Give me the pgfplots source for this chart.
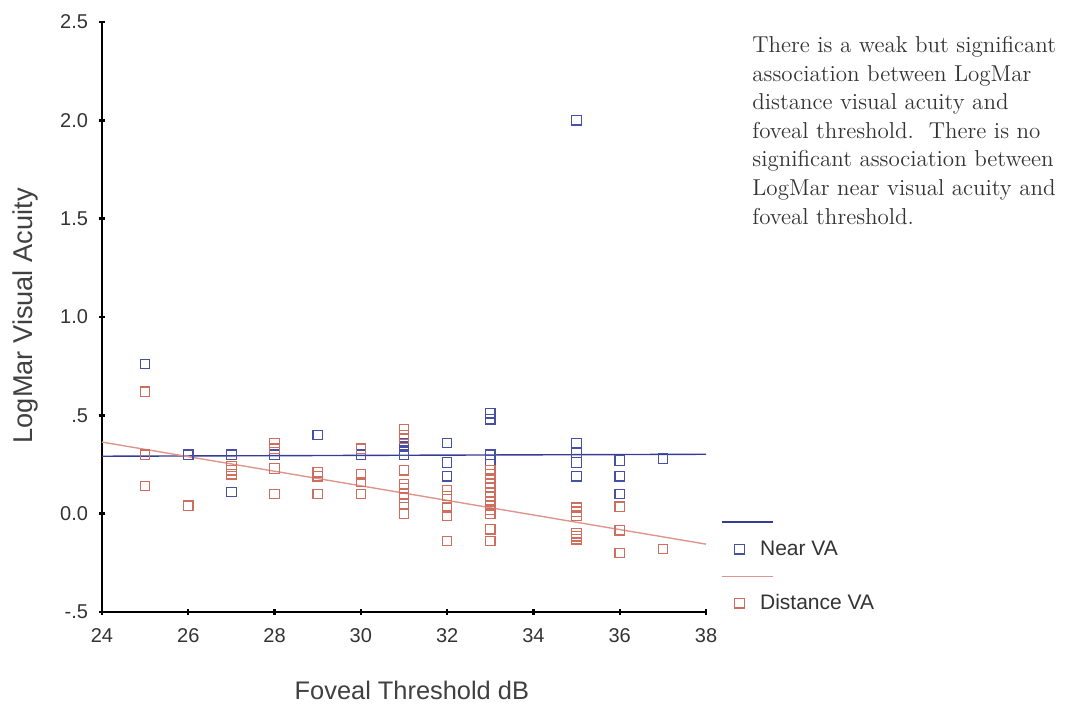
\documentclass[border=0pt]{standalone}
\usepackage{fontspec}
\setmainfont{Liberation Sans}
\usepackage{pgfplots}
\pgfplotsset{compat=1.18}
\definecolor{nearblue}{RGB}{70,80,165}
\definecolor{distred}{RGB}{205,110,95}
\definecolor{linered}{RGB}{222,150,140}
\definecolor{lineblue}{RGB}{55,60,150}
\pgfplotsset{
  lineleg/.style={legend image code/.code={\draw[overlay,##1] (0pt,0pt) -- (25.5pt,0pt); \path (0pt,0pt) -- (12pt,0pt);}},
  markleg/.style={legend image code/.code={\draw[mark repeat=2,mark phase=2,##1] plot coordinates {(0pt,0pt) (8.5pt,0pt) (12pt,0pt)};}},
}
\begin{document}
\begin{tikzpicture}
\useasboundingbox (-51pt,-49.5pt) rectangle (482pt,306pt);
\begin{axis}[
  at={(0,0)}, anchor=south west,
  scale only axis, width=302pt, height=295pt,
  xmin=24, xmax=38, ymin=-0.5, ymax=2.5,
  axis x line*=bottom, axis y line*=left,
  axis line style={line width=0.8pt},
  xtick={24,26,...,38},
  xticklabels={24,26,28,30,32,34,36,38},
  ytick={-0.5,0,0.5,1,1.5,2,2.5},
  yticklabels={-.5,0.0,.5,1.0,1.5,2.0,2.5},
  tick align=center, major tick length=3pt,
  tick style={line width=1.2pt, black},
  ticklabel style={font=\fontsize{10}{12}\selectfont, text=black!80},
  xticklabel style={yshift=-3pt},
  yticklabel style={xshift=-2pt},
  xlabel={Foveal Threshold dB},
  ylabel={LogMar Visual Acuity},
  xlabel style={font=\fontsize{12.7}{15}\selectfont, text=black!75, at={(axis description cs:0.513,0)}, anchor=center, yshift=-39pt},
  ylabel style={font=\fontsize{13.6}{16}\selectfont, text=black!75, at={(axis description cs:-0.1275,0.502)}, anchor=center},
  legend style={draw=none, at={(1.0154,0.18)}, anchor=north west, font=\fontsize{10.5}{12}\selectfont, text=black!80,
    row sep=1.5pt, column sep=5.5pt, nodes={text height=8pt, text depth=2pt, inner sep=1pt}},
  legend cell align=left,
]
\addplot[lineblue, line width=0.7pt, forget plot] coordinates {(24,0.292) (38,0.302)};
\addplot[linered, line width=0.7pt, forget plot] coordinates {(24,0.364) (38,-0.155)};
\addlegendimage{lineblue, line width=0.7pt, lineleg}
\addlegendentry{}
\addplot[only marks, mark=square, mark size=2.35pt, nearblue, mark options={line width=0.6pt}, markleg]
coordinates {
(25,0.76) (25,0.30)
(26,0.30)
(27,0.30) (27,0.11)
(28,0.30)
(29,0.40)
(30,0.30)
(31,0.30) (31,0.32) (31,0.34) (31,0.36)
(32,0.36) (32,0.26) (32,0.19)
(33,0.51) (33,0.48) (33,0.30) (33,0.27)
(35,2.00) (35,0.36) (35,0.31) (35,0.26) (35,0.19)
(36,0.27) (36,0.19) (36,0.10)
(37,0.28)
};
\addlegendentry{Near VA}
\addlegendimage{linered, line width=0.7pt, lineleg}
\addlegendentry{}
\addplot[only marks, mark=square, mark size=2.35pt, distred, mark options={line width=0.6pt}, markleg]
coordinates {
(25,0.62) (25,0.14) (25,0.30)
(26,0.04)
(27,0.24) (27,0.22) (27,0.20)
(28,0.36) (28,0.33) (28,0.23) (28,0.10)
(29,0.21) (29,0.19) (29,0.10)
(30,0.33) (30,0.20) (30,0.16) (30,0.10)
(31,0.43) (31,0.40) (31,0.38) (31,0.22) (31,0.15) (31,0.13) (31,0.10) (31,0.08) (31,0.05) (31,0.00)
(32,0.12) (32,0.09) (32,0.03) (32,-0.01) (32,-0.14)
(33,0.22) (33,0.20) (33,0.18) (33,0.15) (33,0.13) (33,0.11) (33,0.09) (33,0.06) (33,0.04) (33,0.02) (33,0.00) (33,-0.08) (33,-0.14)
(35,0.03) (35,0.01) (35,-0.01) (35,-0.10) (35,-0.115) (35,-0.13)
(36,0.035) (36,-0.085) (36,-0.20)
(37,-0.18)
};
\addlegendentry{Distance VA}
\end{axis}
\node[anchor=north west, align=left, inner sep=0pt, text=black!80,
  font=\fontfamily{lmr}\fontsize{11.5}{14.3}\selectfont] at (325pt,288pt)
{There is a weak but significant\\
association between LogMar\\
distance visual acuity and\\
foveal threshold.\ \ There is no\\
significant association between\\
LogMar near visual acuity and\\
foveal threshold.};
\end{tikzpicture}
\end{document}
